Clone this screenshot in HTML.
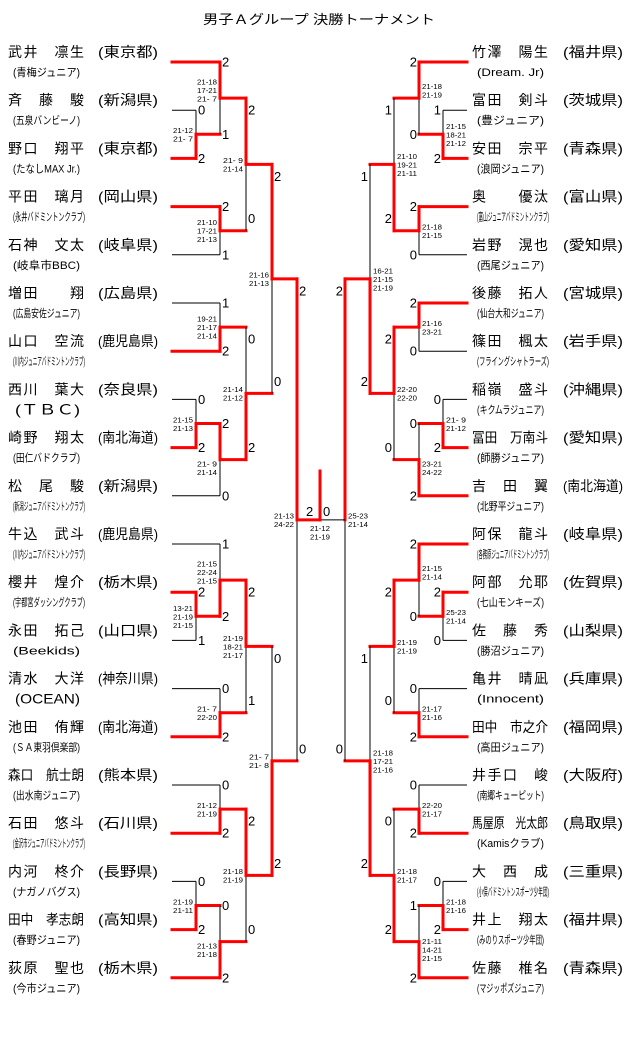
<!DOCTYPE html>
<html><head><meta charset="utf-8">
<style>
html,body{margin:0;padding:0;background:#fff;}
svg{display:block;}
text{font-family:"Liberation Sans","Noto Sans CJK JP",sans-serif;fill:#000;}
</style></head>
<body>
<svg id="s" xmlns="http://www.w3.org/2000/svg" width="640" height="1061" viewBox="0 0 640 1061">
<text x="203" y="24" font-size="13" textLength="232" lengthAdjust="spacingAndGlyphs">男子Ａグループ 決勝トーナメント</text>
</svg>
<script>
const S=document.getElementById('s');const NS='http://www.w3.org/2000/svg';
function el(t,a,txt){const e=document.createElementNS(NS,t);for(const k in a)e.setAttribute(k,a[k]);if(txt!==undefined)e.textContent=txt;S.appendChild(e);return e;}
function ln(x1,y1,x2,y2,red){el('line',{x1,y1,x2,y2,stroke:red?'#ff0000':'#000','stroke-width':red?3:1,'stroke-linecap':red?'square':'butt'});}
const Y=i=>62+i*48.2;
const L=[
['武井　凛生','(東京都)','(青梅ジュニア)'],
['斉　藤　駿','(新潟県)','(五泉バンビーノ)'],
['野口　翔平','(東京都)','(たなしMAX Jr.)'],
['平田　璃月','(岡山県)','(永井バドミントンクラブ)'],
['石神　文太','(岐阜県)','(岐阜市BBC)'],
['増田　　翔','(広島県)','(広島安佐ジュニア)'],
['山口　空流','(鹿児島県)','(川内ジュニアバドミントンクラブ)'],
['西川　葉大','(奈良県)','(ＴＢＣ)',1],
['崎野　翔太','(南北海道)','(田仁バドクラブ)'],
['松　尾　駿','(新潟県)','(新潟ジュニアバドミントンクラブ)'],
['牛込　武斗','(鹿児島県)','(川内ジュニアバドミントンクラブ)'],
['櫻井　煌介','(栃木県)','(宇都宮ダッシングクラブ)'],
['永田　拓己','(山口県)','(Beekids)'],
['清水　大洋','(神奈川県)','(OCEAN)',1],
['池田　侑輝','(南北海道)','(ＳＡ東羽倶楽部)'],
['森口　航士朗','(熊本県)','(出水南ジュニア)'],
['石田　悠斗','(石川県)','(金沢市ジュニアバドミントンクラブ)'],
['内河　柊介','(長野県)','(ナガノバグス)'],
['田中　孝志朗','(高知県)','(春野ジュニア)'],
['荻原　聖也','(栃木県)','(今市ジュニア)']];
const R=[
['竹澤　陽生','(福井県)','(Dream. Jr)'],
['富田　剣斗','(茨城県)','(豊ジュニア)'],
['安田　宗平','(青森県)','(浪岡ジュニア)'],
['奥　　優汰','(富山県)','(富山ジュニアバドミントンクラブ)'],
['岩野　滉也','(愛知県)','(西尾ジュニア)'],
['後藤　拓人','(宮城県)','(仙台大和ジュニア)'],
['篠田　楓太','(岩手県)','(フライングシャトラーズ)'],
['稲嶺　盛斗','(沖縄県)','(キクムラジュニア)'],
['冨田　万南斗','(愛知県)','(師勝ジュニア)'],
['吉　田　翼','(南北海道)','(北野平ジュニア)'],
['阿保　龍斗','(岐阜県)','(各務原ジュニアバドミントンクラブ)'],
['阿部　允耶','(佐賀県)','(七山モンキーズ)'],
['佐　藤　秀','(山梨県)','(勝沼ジュニア)'],
['亀井　晴凪','(兵庫県)','(Innocent)'],
['田中　市之介','(福岡県)','(高田ジュニア)'],
['井手口　峻','(大阪府)','(南郷キューピット)'],
['馬屋原　光太郎','(鳥取県)','(Kamisクラブ)'],
['大　西　成','(三重県)','(小俣バドミントンスポーツ少年団)'],
['井上　翔太','(福井県)','(みのりスポーツ少年団)'],
['佐藤　椎名','(青森県)','(マジッポズジュニア)']];
function names(arr,x0,px){arr.forEach((p,i)=>{const y=Y(i);
el('text',{x:x0,y:y-5,'font-size':14,textLength:76,lengthAdjust:p[0].length>5?'spacingAndGlyphs':'spacing'},p[0]);
el('text',{x:px,y:y-5,'font-size':14,textLength:60,lengthAdjust:'spacingAndGlyphs'},p[1]);
if(p[3])el('text',{x:x0+7,y:y+15,'font-size':14,textLength:65,lengthAdjust:'spacingAndGlyphs'},p[2]);
else el('text',{x:x0+5,y:y+14,'font-size':11,fill:'#222',textLength:p[2].length>12?72:67,lengthAdjust:'spacingAndGlyphs'},p[2]);});}
names(L,8,98);names(R,472,563);
const COL={L:[196,220,246,272,297],R:[443,419,394,370,345]};const ENT={L:172,R:467};
function m(side,c,a,b,d,off,dy,outRed){const x=COL[side][c];const nx=c<4?COL[side][c+1]:320;const mid=(a+b)/2;const w=d[0];
const wy=w?b:a,ly=w?a:b;ln(x,ly,x,mid,false);ln(x,wy,x,mid,true);ln(x,mid,nx,mid,outRed!==false);
const L_=side==='L';const dx=L_?2:-2;const anc=L_?'start':'end';
el('text',{x:x+dx,y:a+4.5+off,'font-size':13,'text-anchor':anc},d[1][0]);
el('text',{x:x+dx,y:b+4.5-off,'font-size':13,'text-anchor':anc},d[1][1]);
const t=d[2];const n=t.length;const cy=mid+(dy||0);
t.forEach((s,k)=>{const ty=cy-(n-1)*4.25+k*8.5+3;el('text',{x:L_?x-3:x+3,y:ty,'font-size':7.5,'text-anchor':L_?'end':'start',textLength:20,lengthAdjust:'spacingAndGlyphs'},s);});
return mid;}
function entry(side,i,c,red){ln(ENT[side],Y(i),COL[side][c],Y(i),red);}
function blockP(side,b,D){
const m12=m(side,0,Y(b+1),Y(b+2),D[0],0,0);entry(side,b+1,0,D[0][0]==0);entry(side,b+2,0,D[0][0]==1);
const ms=m(side,1,Y(b),m12,D[1],0,-8);entry(side,b,1,D[1][0]==0);
const m34=m(side,1,Y(b+3),Y(b+4),D[2],0,0);entry(side,b+3,1,D[2][0]==0);entry(side,b+4,1,D[2][0]==1);
return m(side,2,ms,m34,D[3],12,0);}
function blockQ(side,b,D){const m01=m(side,1,Y(b),Y(b+1),D[0],0,0);entry(side,b,1,D[0][0]==0);entry(side,b+1,1,D[0][0]==1);
const m23=m(side,0,Y(b+2),Y(b+3),D[1],0,0);entry(side,b+2,0,D[1][0]==0);entry(side,b+3,0,D[1][0]==1);
const ms=m(side,1,m23,Y(b+4),D[2],0,8);entry(side,b+4,1,D[2][0]==1);
return m(side,2,m01,ms,D[3],12,0);}
const la=blockP('L',0,[[1,['0','2'],['21-12','21- 7']],[0,['2','1'],['21-18','17-21','21- 7']],[0,['2','1'],['21-10','17-21','21-13']],[0,['2','0'],['21- 9','21-14']]]);
const lb=blockQ('L',5,[[1,['1','2'],['19-21','21-17','21-14']],[1,['0','2'],['21-15','21-13']],[0,['2','0'],['21- 9','21-14']],[1,['0','2'],['21-14','21-12']]]);
const lc=blockP('L',10,[[0,['2','1'],['13-21','21-19','21-15']],[1,['1','2'],['21-15','22-24','21-15']],[1,['0','2'],['21- 7','22-20']],[0,['2','1'],['21-19','18-21','21-17']]]);
const ld=blockQ('L',15,[[1,['0','2'],['21-12','21-19']],[1,['0','2'],['21-19','21-11']],[1,['0','2'],['21-13','21-18']],[0,['2','0'],['21-18','21-19']]]);
const lab=m('L',3,la,lb,[0,['2','0'],['21-16','21-13']],12,0);
const lcd=m('L',3,lc,ld,[1,['0','2'],['21- 7','21- 8']],12,0);
m('L',4,lab,lcd,[0,['2','0'],['21-13','24-22']],12,0,true);
const ra=blockP('R',0,[[1,['1','2'],['21-15','18-21','21-12']],[0,['2','0'],['21-18','21-19']],[0,['2','0'],['21-18','21-15']],[1,['1','2'],['21-10','19-21','21-11']]]);
const rb=blockQ('R',5,[[0,['2','0'],['21-16','23-21']],[1,['0','2'],['21- 9','21-12']],[1,['0','2'],['23-21','24-22']],[0,['2','0'],['22-20','22-20']]]);
const rc=blockP('R',10,[[0,['2','0'],['25-23','21-14']],[0,['2','0'],['21-15','21-14']],[1,['0','2'],['21-17','21-16']],[0,['2','0'],['21-19','21-19']]]);
const rd=blockQ('R',15,[[1,['0','2'],['22-20','21-17']],[1,['0','2'],['21-18','21-16']],[1,['1','2'],['21-11','14-21','21-15']],[1,['0','2'],['21-18','21-17']]]);
const rab=m('R',3,ra,rb,[1,['1','2'],['16-21','21-15','21-19']],12,0);
const rcd=m('R',3,rc,rd,[1,['1','2'],['21-18','17-21','21-16']],12,0);
const fm=m('R',4,rab,rcd,[0,['2','0'],['25-23','21-14']],12,0,false);
ln(320,471,320,fm,true);
el('text',{x:306,y:516,'font-size':13},'2');el('text',{x:323,y:516,'font-size':13},'0');
el('text',{x:320,y:531,'font-size':7.5,'text-anchor':'middle',textLength:20,lengthAdjust:'spacingAndGlyphs'},'21-12');
el('text',{x:320,y:539.5,'font-size':7.5,'text-anchor':'middle',textLength:20,lengthAdjust:'spacingAndGlyphs'},'21-19');
</script>
</body></html>
